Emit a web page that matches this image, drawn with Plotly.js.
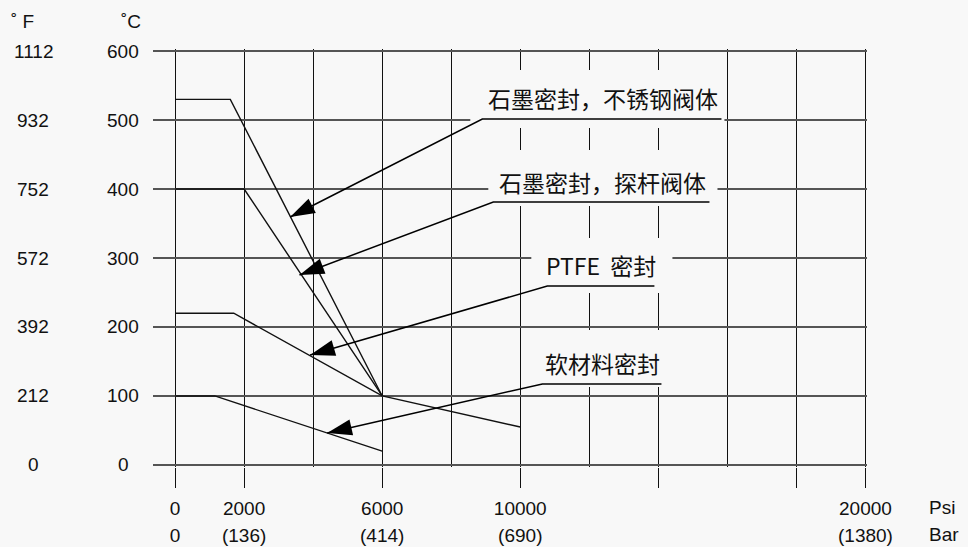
<!DOCTYPE html>
<html><head><meta charset="utf-8">
<script src="https://cdn.plot.ly/plotly-3.0.1.min.js"></script>
<style>html,body{margin:0;padding:0;background:#f8f8f8}</style>
</head><body>
<div id="chart" style="width:968px;height:547px"></div>
<script>
// ---- data ----
const stainlessPsi = [0, 1600, 6000];
const stainlessTemp = [530, 530, 100];
const carbonPsi = [0, 2000, 6000];
const carbonTemp = [400, 400, 100];
const ptfePsi = [0, 1700, 6000, 10000];
const ptfeTemp = [220, 220, 100, 55];
const softPsi = [0, 1150, 6000];
const softTemp = [100, 100, 20];

const tempC = [0, 100, 200, 300, 400, 500, 600];
const tempCText = ['0', '100', '200', '300', '400', '500', '600'];
const tempFText = ['0', '212', '392', '572', '752', '932', '1112'];

const minorGridPsi = [4000, 8000, 12000, 16000];
const psiTickVals = [0, 2000, 6000, 10000, 14000, 18000, 20000];
const psiTickText = ['0', '2000', '6000', '10000', '', '', '20000'];
const barTickText = ['0', '(136)', '(414)', '(690)', '', '', '(1380)'];

const labelNames = ['石墨密封，不锈钢阀体', '石墨密封，探杆阀体', 'PTFE\u00a0\u00a0密封', '软材料密封'];

// ---- label placement (layout, not data) ----
const labelPlace = [
  {tx: 12390, ty: 532, ulL: 8900, ulR: 15829, ulY: 501.4, hx: 3334, hy: 359.4, m: [8552, 15915, 488.4, 572.5]},
  {tx: 12390, ty: 410, ulL: 9219, ulR: 15481, ulY: 381.2, hx: 3604, hy: 275.4, m: [9074, 15713, 375.4, 456.5]},
  {tx: 12350, ty: 290, ulL: 10784, ulR: 13886, ulY: 259.4, hx: 3914, hy: 159.4, m: [10320, 14408, 249.3, 329]},
  {tx: 12390, ty: 148, ulL: 10640, ulR: 14090, ulY: 117.4, hx: 4406, hy: 46.4, m: [10436, 14292, 113, 195.7]}
];

const BG = '#f8f8f8';
const INK = '#111';
const numFont = {family: 'Liberation Sans, Arial, sans-serif', size: 19, color: INK};
const cjkFont = {family: 'Noto Sans CJK SC, sans-serif', size: 23, color: INK};

// geometry: 69 px per 2000 psi and per 100 °C; 0 psi at x=175px, 0 °C at y=465px
const xRange = [-640, 20045];
const yRange = [-3, 603];
const pxPerPsi = 69 / 2000, pxPerDeg = 0.69;
const plotLeft = 175 + xRange[0] * pxPerPsi;
const plotRight = 175 + xRange[1] * pxPerPsi;
const plotTop = 465 - yRange[1] * pxPerDeg;
const plotBottom = 465 - yRange[0] * pxPerDeg;
const plotW = plotRight - plotLeft, plotH = plotBottom - plotTop;
const px2paperX = px => (px - plotLeft) / plotW;
const px2paperY = py => (plotBottom - py) / plotH;

const lineStyle = {color: INK, width: 1.4};
const traces = [
  {x: stainlessPsi, y: stainlessTemp},
  {x: carbonPsi, y: carbonTemp},
  {x: ptfePsi, y: ptfeTemp},
  {x: softPsi, y: softTemp}
].map(d => Object.assign({type: 'scatter', mode: 'lines', line: lineStyle, hoverinfo: 'skip', showlegend: false}, d));

labelPlace.forEach(p => {
  traces.push({
    type: 'scatter', mode: 'lines+markers',
    x: [p.ulR, p.ulL, p.hx], y: [p.ulY, p.ulY, p.hy],
    line: {color: '#000', width: 1.5},
    marker: {symbol: 'arrow', size: [0, 0, 26], angleref: 'previous', color: '#000', opacity: 1, line: {width: 0}},
    hoverinfo: 'skip', showlegend: false
  });
});
// carrier for the bar-scale axis
traces.push({type: 'scatter', mode: 'markers', x: [null], y: [null], xaxis: 'x3', yaxis: 'y', hoverinfo: 'skip', showlegend: false});

const annotations = [];
tempC.forEach((v, i) => {
  annotations.push({xref: 'paper', yref: 'y', x: px2paperX(123), y: v, text: tempCText[i], showarrow: false, xanchor: 'center', yanchor: 'middle', font: numFont});
  annotations.push({xref: 'paper', yref: 'y', x: px2paperX(33), y: v, text: tempFText[i], showarrow: false, xanchor: 'center', yanchor: 'middle', font: numFont});
});
annotations.push({xref: 'paper', yref: 'paper', x: px2paperX(22), y: px2paperY(21), text: '˚ F', showarrow: false, xanchor: 'center', yanchor: 'middle', font: numFont});
annotations.push({xref: 'paper', yref: 'paper', x: px2paperX(131), y: px2paperY(21), text: '˚C', showarrow: false, xanchor: 'center', yanchor: 'middle', font: numFont});
annotations.push({xref: 'paper', yref: 'paper', x: px2paperX(927), y: px2paperY(508), text: 'Psi', showarrow: false, xanchor: 'left', yanchor: 'middle', font: numFont});
annotations.push({xref: 'paper', yref: 'paper', x: px2paperX(927), y: px2paperY(535), text: 'Bar', showarrow: false, xanchor: 'left', yanchor: 'middle', font: numFont});

labelNames.forEach((t, i) => {
  const p = labelPlace[i];
  annotations.push({xref: 'x', yref: 'y', x: p.tx, y: p.ty, text: t, showarrow: false, xanchor: 'center', yanchor: 'middle', font: cjkFont});
});

const shapes = labelPlace.map(p => ({
  type: 'rect', layer: 'between', xref: 'x', yref: 'y',
  x0: p.m[0], x1: p.m[1], y0: p.m[2], y1: p.m[3],
  fillcolor: BG, line: {width: 0}
}));

const layout = {
  width: 968, height: 547,
  margin: {l: plotLeft, r: 968 - plotRight, t: plotTop, b: 547 - plotBottom, pad: 0},
  paper_bgcolor: BG, plot_bgcolor: BG,
  showlegend: false, hovermode: false,
  xaxis: {
    range: xRange, tickvals: psiTickVals, ticktext: psiTickText,
    ticks: 'outside', ticklen: 20, tickwidth: 1, tickcolor: INK,
    ticklabelstandoff: 4, tickfont: numFont,
    showgrid: true, gridcolor: INK, gridwidth: 1,
    minor: {tickvals: minorGridPsi, showgrid: true, gridcolor: INK, gridwidth: 1, ticks: ''},
    zeroline: false, showline: false, fixedrange: true
  },
  xaxis3: {
    overlaying: 'x', anchor: 'y', side: 'bottom', range: xRange, tickvals: psiTickVals, ticktext: barTickText,
    ticks: 'outside', ticklen: 20, tickcolor: 'rgba(0,0,0,0)', ticklabelstandoff: 31,
    tickfont: numFont, showgrid: false, zeroline: false, showline: false, fixedrange: true
  },
  yaxis: {
    range: yRange, tickvals: tempC, showgrid: true, gridcolor: '#555', gridwidth: 1.8,
    showticklabels: false, ticks: '', zeroline: false, showline: false, fixedrange: true
  },
  annotations: annotations,
  shapes: shapes
};

Plotly.newPlot('chart', traces, layout, {displayModeBar: false, staticPlot: true});
</script>
</body></html>
